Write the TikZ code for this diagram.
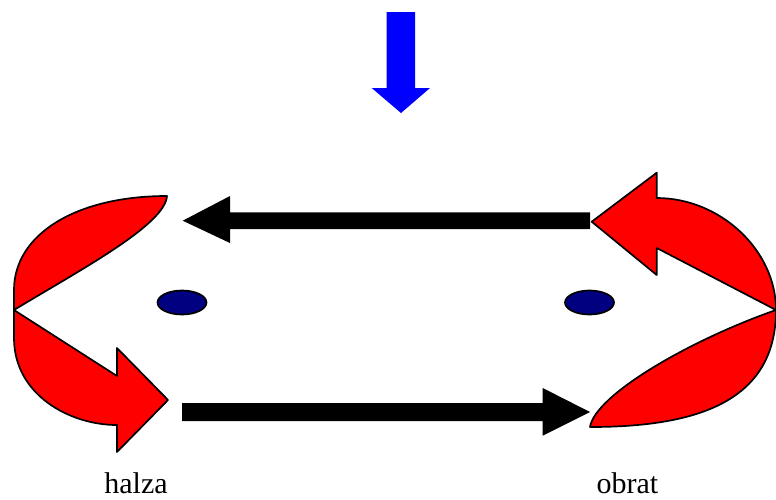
\documentclass[tikz,border=0pt]{standalone}
\usepackage{fontspec}
\setmainfont{Liberation Serif}
\usetikzlibrary{shapes.geometric}
\definecolor{navyblue}{RGB}{0,0,128}
\tikzset{
  redshape/.style={fill=red, draw=black, line width=1.7pt, line join=round},
  blockarrow/.style={fill=black, draw=none},
  bluearrow/.style={fill=blue, draw=none},
  dot/.style={ellipse, fill=navyblue, draw=black, line width=1.7pt, minimum width=49pt, minimum height=24pt, inner sep=0pt},
  lbl/.style={anchor=base, inner sep=0pt, text depth=0pt, font=\fontsize{30}{34}\selectfont}
}
\begin{document}
\begin{tikzpicture}[x=1pt,y=-1pt]
\useasboundingbox (0,0) rectangle (776,499);
% blue down arrow
\fill[bluearrow] (386.7,12) -- (415,12) -- (415,88) -- (430,88) -- (401,113) -- (371.7,88) -- (386.7,88) -- cycle;
% left upper lens
\path[redshape] (14,310) -- (14,290) .. controls (14,235) and (75,196) .. (167,196)
  .. controls (165,225) and (80,270) .. (14,310) -- cycle;
% left lower curved arrow
\path[redshape] (14,310) -- (14,338) .. controls (14,395) and (70,425) .. (117,425)
  -- (117,452) -- (168,400) -- (117,348) -- (117,376) -- cycle;
% right upper curved arrow
\path[redshape] (776,310) .. controls (776,250) and (720,198) .. (656.7,198)
  -- (656.7,172.7) -- (591.7,221.7) -- (656.7,275) -- (656.7,248) -- cycle;
% right lower lens
\path[redshape] (776,310) .. controls (776,400) and (700,427) .. (590,427)
  .. controls (595,395) and (690,340) .. (776,310) -- cycle;
% black block arrows
\fill[blockarrow] (590,212.3) -- (230,212.3) -- (230,196) -- (182.7,220.7) -- (230,243) -- (230,229) -- (590,229) -- cycle;
\fill[blockarrow] (182,403) -- (542.7,403) -- (542.7,388) -- (590,412) -- (542.7,435.7) -- (542.7,421) -- (182,421) -- cycle;
% dots
\node[dot] (dl) at (182,302.5) {};
\node[dot] (dr) at (589.5,302.5) {};
% labels
\node[lbl] (halza) at (136,493) {halza};
\node[lbl] (obrat) at (627.5,493) {obrat};
\end{tikzpicture}
\end{document}
